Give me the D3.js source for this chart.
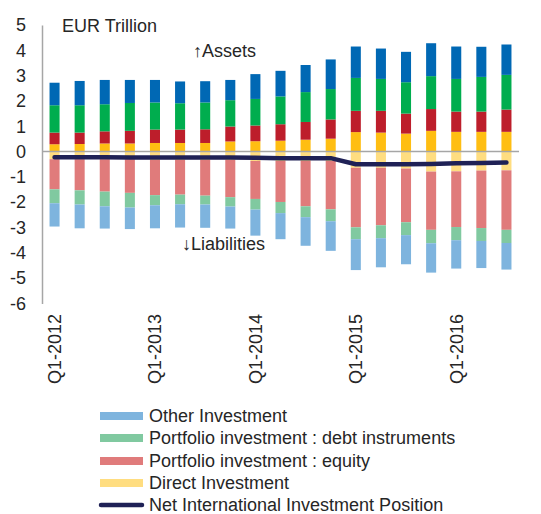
<!DOCTYPE html>
<html>
<head>
<meta charset="utf-8">
<script src="https://cdn.jsdelivr.net/npm/d3@7"></script>
<style>
  body { margin: 0; background: #fff; }
  text { font-family: "Liberation Sans", Arial, sans-serif; fill: #262626; }
</style>
</head>
<body>
<script>
var quarters = ["Q1-2012","Q2-2012","Q3-2012","Q4-2012",
                "Q1-2013","Q2-2013","Q3-2013","Q4-2013",
                "Q1-2014","Q2-2014","Q3-2014","Q4-2014",
                "Q1-2015","Q2-2015","Q3-2015","Q4-2015",
                "Q1-2016","Q2-2016","Q3-2016"];
var tickQuarters = ["Q1-2012","Q1-2013","Q1-2014","Q1-2015","Q1-2016"];
var yTicks = [5, 4, 3, 2, 1, 0, -1, -2, -3, -4, -5, -6];

// assets (EUR trillion)
var assetDirect  = [0.29,0.30,0.32,0.32,0.34,0.34,0.34,0.40,0.41,0.43,0.47,0.51,0.77,0.75,0.71,0.82,0.78,0.78,0.78];
var assetEquity  = [0.46,0.45,0.48,0.50,0.53,0.53,0.54,0.59,0.62,0.65,0.70,0.76,0.84,0.86,0.79,0.86,0.80,0.80,0.88];
var assetDebt    = [1.08,1.08,1.07,1.10,1.07,1.04,1.06,1.04,1.05,1.10,1.18,1.20,1.30,1.26,1.24,1.30,1.29,1.37,1.37];
var assetOther   = [0.89,0.96,0.96,0.91,0.89,0.86,0.84,0.80,0.98,1.01,1.07,1.17,1.24,1.20,1.20,1.30,1.28,1.19,1.20];

// liabilities (EUR trillion, shown below zero)
var liabDirect   = [0.30,0.30,0.30,0.30,0.33,0.33,0.33,0.33,0.37,0.37,0.37,0.37,0.64,0.64,0.67,0.79,0.78,0.75,0.74];
var liabEquity   = [1.19,1.23,1.28,1.33,1.39,1.37,1.41,1.47,1.50,1.62,1.79,1.91,2.35,2.27,2.12,2.30,2.20,2.27,2.35];
var liabDebt     = [0.55,0.56,0.58,0.58,0.40,0.38,0.35,0.37,0.42,0.44,0.43,0.47,0.47,0.51,0.51,0.53,0.52,0.51,0.52];
var liabOther    = [0.92,0.94,0.88,0.85,0.91,0.92,0.92,0.87,1.03,1.03,1.13,1.17,1.22,1.15,1.15,1.16,1.12,1.07,1.05];

var netPosition  = [-0.22,-0.22,-0.22,-0.23,-0.23,-0.23,-0.23,-0.23,-0.24,-0.26,-0.26,-0.26,-0.50,-0.50,-0.50,-0.49,-0.46,-0.45,-0.43];

var seriesNames = ["Other Investment", "Portfolio investment : debt instruments",
                   "Portfolio investment : equity", "Direct Investment"];
var assetColors = ["#0068b4", "#00ad4e", "#bd1e2b", "#ffbe12"];
var liabColors  = ["#7eb4de", "#80c9a0", "#e07b7b", "#ffdd80"];
var netColor = "#1f2156";

var width = 541, height = 514;
var fontSize = "18px";
var svg = d3.select("body").append("svg")
            .attr("width", width)
            .attr("height", height);

var xScale = d3.scaleBand()
               .domain(quarters)
               .range([42, 519])
               .paddingInner(0.6)
               .paddingOuter(0.3);
var yScale = d3.scaleLinear()
               .domain([-6, 5])
               .range([303.5, 25]);

// stack order from zero outward: direct, equity, debt, other
var assetLayers = [assetDirect, assetEquity, assetDebt, assetOther];
var liabLayers  = [liabDirect, liabEquity, liabDebt, liabOther];
var layerColorIdx = [3, 2, 1, 0];

var rects = [];
quarters.forEach(function(q, i) {
    var up = 0, down = 0;
    for (var k = 0; k < 4; k++) {
        var a = assetLayers[k][i];
        rects.push({q: q, y0: up, y1: up + a, color: assetColors[layerColorIdx[k]]});
        up += a;
        var l = liabLayers[k][i];
        rects.push({q: q, y0: down - l, y1: down, color: liabColors[layerColorIdx[k]]});
        down -= l;
    }
});

// draw bars
svg.selectAll("rect.bar")
   .data(rects)
   .enter()
   .append("rect")
   .attr("class", "bar")
   .attr("x", function(d) { return xScale(d.q); })
   .attr("y", function(d) { return yScale(d.y1); })
   .attr("width", xScale.bandwidth())
   .attr("height", function(d) { return yScale(d.y0) - yScale(d.y1); })
   .attr("fill", function(d) { return d.color; });

// zero line
svg.append("line")
   .attr("x1", 42).attr("x2", 519)
   .attr("y1", yScale(0)).attr("y2", yScale(0))
   .attr("stroke", "#a6a6a6")
   .attr("stroke-width", 1.5);

// y axis
var yAxis = d3.axisLeft(yScale)
              .tickValues(yTicks)
              .tickSize(0)
              .tickPadding(16)
              .tickFormat(function(d) { return String(d); });
var gy = svg.append("g")
            .attr("transform", "translate(42,0)")
            .call(yAxis);
gy.select(".domain").attr("stroke", "#a6a6a6").attr("stroke-width", 1.5);
gy.selectAll("text")
  .style("font-size", fontSize)
  .attr("fill", "#262626")
  .attr("font-family", null);

// x labels
svg.selectAll("text.xlab")
   .data(tickQuarters)
   .enter()
   .append("text")
   .attr("class", "xlab")
   .attr("transform", function(d) {
        return "translate(" + (xScale(d) + xScale.bandwidth() / 2) + ",314) rotate(-90)";
   })
   .attr("text-anchor", "end")
   .attr("dy", "0.35em")
   .style("font-size", fontSize)
   .text(function(d) { return d; });

// net position line
var line = d3.line()
             .x(function(d, i) { return xScale(quarters[i]) + xScale.bandwidth() / 2; })
             .y(function(d) { return yScale(d); });
svg.append("path")
   .datum(netPosition)
   .attr("d", line)
   .attr("fill", "none")
   .attr("stroke", netColor)
   .attr("stroke-width", 4.5)
   .attr("stroke-linecap", "round")
   .attr("stroke-linejoin", "round");

// annotations
svg.append("text").attr("x", 62).attr("y", 32).style("font-size", fontSize).text("EUR Trillion");
svg.append("text").attr("x", 193).attr("y", 57).style("font-size", fontSize).text("\u2191Assets");
svg.append("text").attr("x", 182).attr("y", 250).style("font-size", fontSize).text("\u2193Liabilities");

// legend
var legendY = [416, 438, 461, 483];
var legend = svg.append("g");
seriesNames.forEach(function(name, i) {
    legend.append("rect")
          .attr("x", 100).attr("y", legendY[i] - 4)
          .attr("width", 43).attr("height", 8)
          .attr("fill", liabColors[i]);
    legend.append("text")
          .attr("x", 149).attr("y", legendY[i])
          .attr("dy", "0.35em")
          .style("font-size", fontSize)
          .text(name);
});
legend.append("line")
      .attr("x1", 101).attr("x2", 142)
      .attr("y1", 505).attr("y2", 505)
      .attr("stroke", netColor)
      .attr("stroke-width", 4.5)
      .attr("stroke-linecap", "round");
legend.append("text")
      .attr("x", 149).attr("y", 505)
      .attr("dy", "0.35em")
      .style("font-size", fontSize)
      .text("Net International Investment Position");
</script>
</body>
</html>
